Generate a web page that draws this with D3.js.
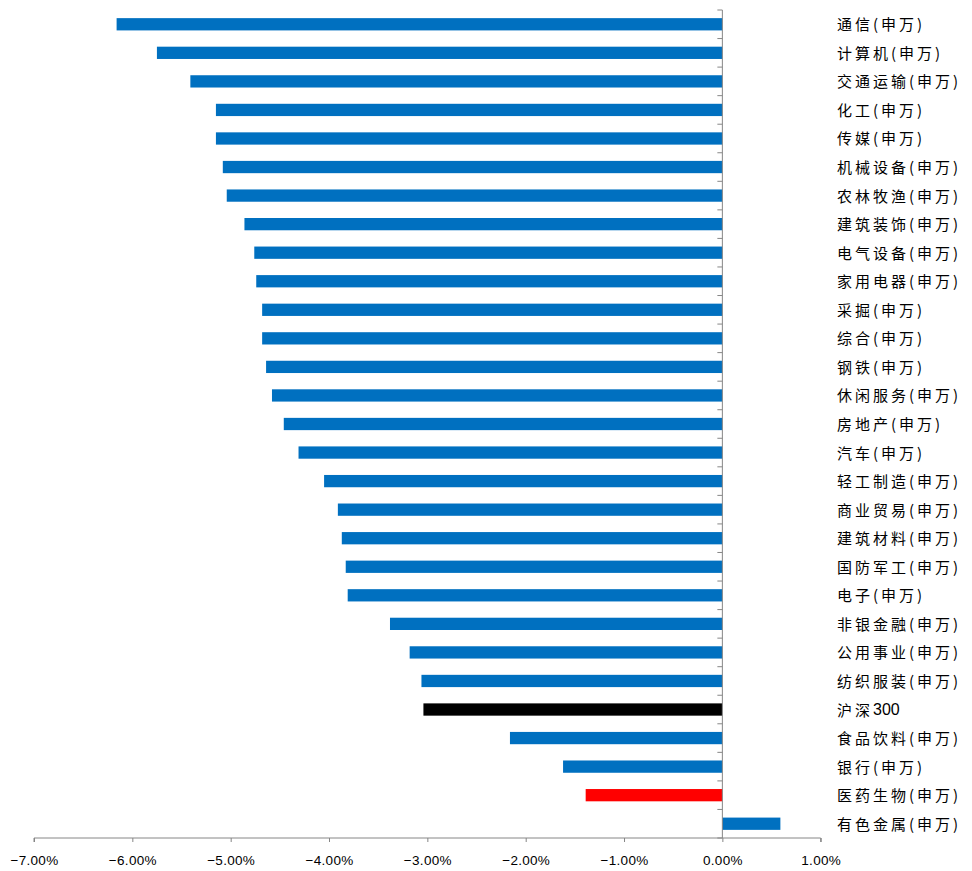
<!DOCTYPE html>
<html>

<head>
    <meta charset="utf-8">
    <title>行业涨跌幅</title>
    <script src="https://d3js.org/d3.v7.min.js"></script>
    <style>
        body {
            margin: 0;
            background: #fff;
        }

        .cat-label {
            font-family: 'Noto Sans CJK SC', sans-serif;
            font-size: 15px;
            letter-spacing: 3px;
            fill: #000;
        }

        .cat-label .num {
            font-family: 'Liberation Sans', Arial, sans-serif;
            font-size: 16px;
            letter-spacing: 0;
        }

        .tick-label {
            font-family: 'Liberation Sans', Arial, sans-serif;
            font-size: 13.5px;
            letter-spacing: 0.3px;
            fill: #000;
        }
    </style>
</head>

<body>
    <svg width="972" height="871"></svg>
    <script>
        // industries, top to bottom
        var categories = [
            "通信(申万)", "计算机(申万)", "交通运输(申万)", "化工(申万)", "传媒(申万)",
            "机械设备(申万)", "农林牧渔(申万)", "建筑装饰(申万)", "电气设备(申万)", "家用电器(申万)",
            "采掘(申万)", "综合(申万)", "钢铁(申万)", "休闲服务(申万)", "房地产(申万)",
            "汽车(申万)", "轻工制造(申万)", "商业贸易(申万)", "建筑材料(申万)", "国防军工(申万)",
            "电子(申万)", "非银金融(申万)", "公用事业(申万)", "纺织服装(申万)", "沪深300",
            "食品饮料(申万)", "银行(申万)", "医药生物(申万)", "有色金属(申万)"
        ];

        // weekly change, %
        var values = [
            -6.16, -5.75, -5.41, -5.15, -5.15,
            -5.08, -5.04, -4.86, -4.76, -4.74,
            -4.68, -4.68, -4.64, -4.58, -4.46,
            -4.31, -4.05, -3.91, -3.87, -3.83,
            -3.81, -3.38, -3.18, -3.06, -3.04,
            -2.16, -1.62, -1.39, 0.59
        ];

        var xTicks = [-7, -6, -5, -4, -3, -2, -1, 0, 1];

        var data = categories.map(function (c, i) {
            return { name: c, value: values[i] };
        });

        var svg = d3.select("svg");

        var x = d3.scaleLinear().domain([-7, 1]).range([34, 820.7]);
        var y = d3.scaleBand().domain(categories).range([10, 838]).paddingInner(0.57).paddingOuter(0.285);

        var axisColor = "#868686";

        function barColor(d) {
            if (d.name === "沪深300") return "#000000";
            if (d.name === "医药生物(申万)") return "#FF0000";
            return "#0070C0";
        }

        // bars
        svg.append("g")
            .selectAll("rect")
            .data(data)
            .enter().append("rect")
            .attr("x", d => x(Math.min(0, d.value)))
            .attr("y", d => y(d.name))
            .attr("width", d => Math.abs(x(d.value) - x(0)))
            .attr("height", y.bandwidth())
            .attr("fill", barColor);

        // x axis at bottom
        var xAxis = d3.axisBottom(x)
            .tickValues(xTicks)
            .tickSize(4)
            .tickFormat(d => d3.format(".2f")(d) + "%");

        var gx = svg.append("g")
            .attr("transform", "translate(0,838)")
            .call(xAxis);
        gx.select(".domain").attr("stroke", axisColor).attr("d", "M34,4V0H820.7V4");
        gx.selectAll(".tick line").attr("stroke", axisColor);
        gx.selectAll(".tick text")
            .attr("class", "tick-label")
            .attr("fill", "#000")
            .attr("font-size", null)
            .attr("font-family", null)
            .attr("y", 27)
            .attr("dy", null);

        // vertical axis at zero with ticks on band boundaries
        var step = y.step();
        var boundaries = d3.range(categories.length + 1).map(i => 10 + i * step);
        var gy = svg.append("g");
        gy.append("line")
            .attr("x1", x(0)).attr("x2", x(0))
            .attr("y1", 10).attr("y2", 838)
            .attr("stroke", axisColor);
        gy.selectAll("line.tk")
            .data(boundaries)
            .enter().append("line")
            .attr("class", "tk")
            .attr("x1", x(0) - 5).attr("x2", x(0))
            .attr("y1", d => d).attr("y2", d => d)
            .attr("stroke", axisColor);

        // category labels on the right
        var labels = svg.append("g")
            .selectAll("text")
            .data(data)
            .enter().append("text")
            .attr("class", "cat-label")
            .attr("x", 837)
            .attr("y", d => y(d.name) + y.bandwidth() / 2 - 1)
            .attr("dominant-baseline", "central");

        labels.each(function (d) {
            var t = d3.select(this);
            d.name.split(/(\d+)/).filter(s => s.length).forEach(function (part) {
                t.append("tspan")
                    .attr("class", /^\d+$/.test(part) ? "num" : null)
                    .text(part);
            });
        });
    </script>
</body>

</html>
